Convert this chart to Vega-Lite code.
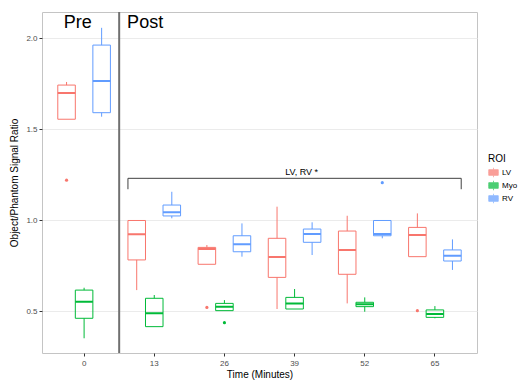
{
  "$schema": "https://vega.github.io/schema/vega-lite/v6.json",
  "width": 435,
  "height": 341,
  "autosize": {"type": "none"},
  "padding": {"left": 42, "top": 12, "right": 49, "bottom": 32},
  "background": "white",
  "config": {
    "font": "Liberation Sans",
    "view": {"stroke": "#c4c4c4", "strokeWidth": 1},
    "axis": {
      "labelFont": "Liberation Sans",
      "labelFontSize": 8,
      "labelColor": "#4d4d4d",
      "titleFont": "Liberation Sans",
      "titleFontSize": 10,
      "titleFontWeight": "normal",
      "titleColor": "#000000",
      "tickColor": "#333333",
      "tickSize": 3,
      "domain": false,
      "gridColor": "#ebebeb",
      "gridWidth": 1
    }
  },
  "datasets": {
    "boxes": [
      {"time": 0, "roi": "LV", "lower": 1.555, "q1": 1.555, "median": 1.70, "q3": 1.743, "upper": 1.76},
      {"time": 0, "roi": "Myo", "lower": 0.35, "q1": 0.46, "median": 0.551, "q3": 0.615, "upper": 0.628},
      {"time": 0, "roi": "RV", "lower": 1.569, "q1": 1.591, "median": 1.765, "q3": 1.963, "upper": 2.058},
      {"time": 13, "roi": "LV", "lower": 0.615, "q1": 0.781, "median": 0.922, "q3": 0.998, "upper": 0.998},
      {"time": 13, "roi": "Myo", "lower": 0.414, "q1": 0.414, "median": 0.487, "q3": 0.57, "upper": 0.588},
      {"time": 13, "roi": "RV", "lower": 1.01, "q1": 1.023, "median": 1.043, "q3": 1.083, "upper": 1.156},
      {"time": 26, "roi": "LV", "lower": 0.757, "q1": 0.757, "median": 0.841, "q3": 0.85, "upper": 0.863},
      {"time": 26, "roi": "Myo", "lower": 0.502, "q1": 0.502, "median": 0.524, "q3": 0.542, "upper": 0.56},
      {"time": 26, "roi": "RV", "lower": 0.799, "q1": 0.826, "median": 0.867, "q3": 0.914, "upper": 0.982},
      {"time": 39, "roi": "LV", "lower": 0.511, "q1": 0.685, "median": 0.797, "q3": 0.9, "upper": 1.074},
      {"time": 39, "roi": "Myo", "lower": 0.511, "q1": 0.511, "median": 0.542, "q3": 0.575, "upper": 0.621},
      {"time": 39, "roi": "RV", "lower": 0.808, "q1": 0.878, "median": 0.924, "q3": 0.951, "upper": 0.988},
      {"time": 52, "roi": "LV", "lower": 0.542, "q1": 0.702, "median": 0.836, "q3": 0.94, "upper": 1.024},
      {"time": 52, "roi": "Myo", "lower": 0.496, "q1": 0.524, "median": 0.537, "q3": 0.548, "upper": 0.575},
      {"time": 52, "roi": "RV", "lower": 0.90, "q1": 0.914, "median": 0.924, "q3": 0.998, "upper": 0.998},
      {"time": 65, "roi": "LV", "lower": 0.799, "q1": 0.799, "median": 0.918, "q3": 0.96, "upper": 1.037},
      {"time": 65, "roi": "Myo", "lower": 0.46, "q1": 0.465, "median": 0.484, "q3": 0.506, "upper": 0.527},
      {"time": 65, "roi": "RV", "lower": 0.726, "q1": 0.775, "median": 0.804, "q3": 0.836, "upper": 0.894}
    ],
    "outliers": [
      {"time": 0, "roi": "LV", "value": 1.22},
      {"time": 26, "roi": "LV", "value": 0.52},
      {"time": 26, "roi": "Myo", "value": 0.436},
      {"time": 52, "roi": "RV", "value": 1.206},
      {"time": 65, "roi": "LV", "value": 0.502}
    ]
  },
  "layer": [
    {
      "encoding": {
        "x": {
          "field": "time",
          "type": "ordinal",
          "scale": {"paddingInner": 0.25, "paddingOuter": 0.225},
          "axis": {"title": "Time (Minutes)", "labelAngle": 0, "bandPosition": 0.5, "titlePadding": 2, "labelPadding": 3}
        },
        "xOffset": {
          "field": "roi",
          "type": "nominal",
          "scale": {"domain": ["LV", "Myo", "RV"], "paddingInner": 0, "paddingOuter": 0}
        }
      },
      "layer": [
        {
          "data": {"name": "boxes"},
          "mark": {"type": "bar", "filled": false, "strokeWidth": 1},
          "encoding": {
            "y": {
              "field": "q1",
              "type": "quantitative",
              "scale": {"domain": [0.269, 2.145], "nice": false, "zero": false},
              "axis": {"title": "Object/Phantom Signal Ratio", "values": [0.5, 1.0, 1.5, 2.0], "format": ".1f", "titlePadding": 6, "labelPadding": 2}
            },
            "y2": {"field": "q3"},
            "color": {
              "field": "roi",
              "type": "nominal",
              "scale": {"domain": ["LV", "Myo", "RV"], "range": ["#F8766D", "#00BA38", "#619CFF"]},
              "legend": {
                "title": "ROI",
                "orient": "none",
                "legendX": 446,
                "legendY": 142,
                "titleFontSize": 10,
                "titleFontWeight": "normal",
                "titleColor": "#000000",
                "titlePadding": 3,
                "labelFontSize": 8,
                "labelColor": "#000000",
                "symbolType": "M-1,-0.6H1V0.6H-1Z M-1,0H1 M0,-0.6V-1 M0,0.6V1",
                "symbolSize": 90,
                "symbolStrokeWidth": 0.8,
                "symbolFillColor": "white",
                "symbolOpacity": 0.7,
                "rowPadding": 0,
                "labelOffset": 3,
                "encode": {"symbols": {"update": {"fill": {"value": "white"}, "fillOpacity": {"value": 0}}}}
              }
            }
          }
        },
        {
          "data": {"name": "boxes"},
          "mark": {"type": "rule", "strokeWidth": 1},
          "encoding": {
            "y": {"field": "lower", "type": "quantitative"},
            "y2": {"field": "q1"},
            "color": {"field": "roi", "type": "nominal"}
          }
        },
        {
          "data": {"name": "boxes"},
          "mark": {"type": "rule", "strokeWidth": 1},
          "encoding": {
            "y": {"field": "q3", "type": "quantitative"},
            "y2": {"field": "upper"},
            "color": {"field": "roi", "type": "nominal"}
          }
        },
        {
          "data": {"name": "boxes"},
          "mark": {"type": "bar", "filled": false, "strokeWidth": 2},
          "encoding": {
            "y": {"field": "median", "type": "quantitative"},
            "y2": {"field": "median"},
            "color": {"field": "roi", "type": "nominal"}
          }
        },
        {
          "data": {"name": "outliers"},
          "mark": {"type": "circle", "size": 10, "opacity": 1},
          "encoding": {
            "y": {"field": "value", "type": "quantitative"},
            "fill": {
              "field": "roi",
              "type": "nominal",
              "scale": {"domain": ["LV", "Myo", "RV"], "range": ["#F8766D", "#00BA38", "#619CFF"]},
              "legend": null
            }
          }
        }
      ]
    },
    {
      "layer": [
        {
          "data": {"values": [{"x": 1.5}]},
          "mark": {"type": "rule", "color": "#707070", "strokeWidth": 2},
          "encoding": {
            "x": {"field": "x", "type": "quantitative", "scale": {"domain": [0.4, 6.6], "nice": false, "zero": false}, "axis": null}
          }
        },
        {
          "data": {"values": [
            {"x": 1.625, "x2": 6.375, "y": 1.23, "y2": 1.23},
            {"x": 1.625, "x2": 1.625, "y": 1.23, "y2": 1.17},
            {"x": 6.375, "x2": 6.375, "y": 1.23, "y2": 1.17}
          ]},
          "mark": {"type": "rule", "color": "#404040", "strokeWidth": 1},
          "encoding": {
            "x": {"field": "x", "type": "quantitative"},
            "x2": {"field": "x2"},
            "y": {"field": "y", "type": "quantitative"},
            "y2": {"field": "y2"}
          }
        },
        {
          "data": {"values": [{"label": "LV, RV *", "x": 4.1, "y": 1.265}]},
          "mark": {"type": "text", "fontSize": 9, "color": "#000000", "baseline": "middle", "align": "center"},
          "encoding": {
            "x": {"field": "x", "type": "quantitative"},
            "y": {"field": "y", "type": "quantitative"},
            "text": {"field": "label"}
          }
        },
        {
          "data": {"values": [{"label": "Pre", "x": 0.91, "y": 2.085}, {"label": "Post", "x": 1.87, "y": 2.085}]},
          "mark": {"type": "text", "fontSize": 18, "color": "#000000", "baseline": "middle", "align": "center"},
          "encoding": {
            "x": {"field": "x", "type": "quantitative"},
            "y": {"field": "y", "type": "quantitative"},
            "text": {"field": "label"}
          }
        }
      ]
    }
  ],
  "resolve": {"scale": {"x": "independent"}}
}
